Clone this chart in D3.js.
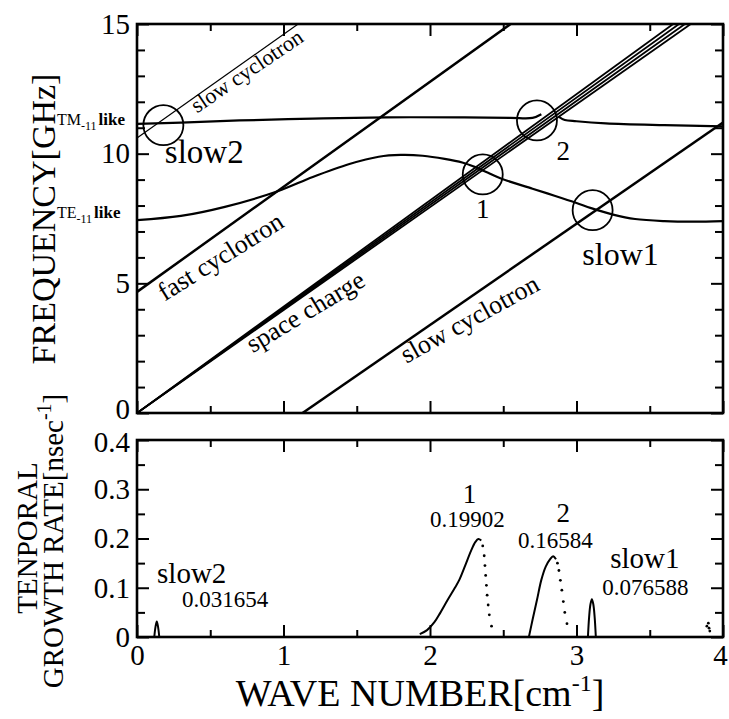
<!DOCTYPE html>
<html>
<head>
<meta charset="utf-8">
<script src="https://cdn.jsdelivr.net/npm/d3@7"></script>
<style>
  body { margin: 0; background: #fff; }
  text { font-family: "Liberation Serif", "Times New Roman", serif; fill: #000; }
</style>
</head>
<body>
<div id="container"></div>
<script>
// ---------- data ----------
// dispersion curves, [wave number cm^-1, frequency GHz]
let teCurve = [[0,7.44],[0.3,7.6],[0.6,7.95],[0.96,8.55],[1.2,9.1],[1.45,9.6],[1.65,9.88],[1.8,9.95],
  [1.95,9.92],[2.1,9.8],[2.22,9.66],[2.3,9.5],[2.38,9.3],[2.48,9.05],[2.7,8.65],[2.85,8.38],
  [3.0,8.1],[3.1,7.9],[3.25,7.65],[3.4,7.48],[3.6,7.4],[3.8,7.38],[4.0,7.4]];
let tmLeft = [[0,11.15],[0.3,11.2],[0.7,11.28],[1.2,11.35],[1.7,11.4],[2.2,11.4],[2.55,11.38],[2.7,11.38],[2.76,11.52]];
let tmRight = [[2.88,11.42],[2.92,11.3],[3.0,11.25],[3.2,11.17],[3.6,11.1],[4.0,11.05]];
let slowCycUpper = [[0,10.6],[1.1,15]];
let fastCyc = [[0,4.67],[2.55,15]];
let slowCycLower = [[1.13,0],[4,11.2]];
let spaceCharge = [
  [[0,0],[3.78,15]],
  [[0,0],[3.74,15]],
  [[0,0],[3.70,15]],
  [[0,0],[3.66,15]]
];
// circled crossing points
let circleK = [0.18, 2.36, 2.73, 3.11];
let circleF = [11.1, 9.2, 11.28, 7.82];

// growth rate, [wave number, rate nsec^-1]
let peak1Solid = [[1.93,0.006],[1.98,0.014],[2.03,0.03],[2.07,0.049],[2.12,0.075],[2.17,0.1],[2.2,0.116],
  [2.24,0.145],[2.28,0.175],[2.31,0.193],[2.33,0.199],[2.35,0.196]];
let peak1Dots = [[2.36,0.185],[2.37,0.165],[2.375,0.145],[2.38,0.125],[2.385,0.105],[2.39,0.085],
  [2.397,0.065],[2.405,0.045],[2.42,0.022]];
let peak2Solid = [[2.675,0.0],[2.70,0.035],[2.73,0.075],[2.76,0.116],[2.79,0.143],[2.82,0.158],[2.84,0.164],[2.86,0.158]];
let peak2Dots = [[2.87,0.15],[2.88,0.135],[2.89,0.115],[2.90,0.095],[2.91,0.072],[2.92,0.05],[2.935,0.027]];
let slow1Peak = [[3.078,0],[3.086,0.04],[3.095,0.066],[3.105,0.0766],[3.115,0.066],[3.124,0.04],[3.132,0]];
let slow2Peak = [[0.118,0],[0.126,0.02],[0.135,0.0317],[0.144,0.02],[0.152,0]];
let blipDots = [[3.89,0.022],[3.9,0.028],[3.905,0.018],[3.91,0.012]];

// axis ticks
let kMajor = [0,1,2,3,4];
let kMinor = [0.5,1.5,2.5,3.5];
let fMajor = [0,5,10,15];
let fMinor = [1,2,3,4,6,7,8,9,11,12,13,14];
let gMajor = [0,0.1,0.2,0.3,0.4];
let gMinor = [0.05,0.15,0.25,0.35];

// text labels
let topNotes = [
  {t:"slow2", k:0.19, f:9.63, size:33, anchor:"start"},
  {t:"slow1", k:3.04, f:5.7, size:32, anchor:"start"},
  {t:"1", k:2.36, f:7.51, size:27, anchor:"middle"},
  {t:"2", k:2.91, f:9.74, size:27, anchor:"middle"}
];
let slantNotes = [
  {t:"slow cyclotron", k:0.41, f:11.55, size:22, rot:-34},
  {t:"fast cyclotron", k:0.19, f:4.3, size:26, rot:-32},
  {t:"space charge", k:0.79, f:2.3, size:26, rot:-31},
  {t:"slow cyclotron", k:1.84, f:1.9, size:26, rot:-29}
];
let botNotes = [
  {t:"slow2", k:0.137, g:0.11, size:29, anchor:"start"},
  {t:"0.031654", k:0.307, g:0.061, size:23, anchor:"start"},
  {t:"1", k:2.27, g:0.272, size:27, anchor:"middle"},
  {t:"0.19902", k:2.0, g:0.223, size:23, anchor:"start"},
  {t:"2", k:2.91, g:0.2335, size:27, anchor:"middle"},
  {t:"0.16584", k:2.6, g:0.181, size:23, anchor:"start"},
  {t:"slow1", k:3.23, g:0.14, size:29, anchor:"start"},
  {t:"0.076588", k:3.175, g:0.085, size:23, anchor:"start"}
];

// ---------- layout ----------
let w = 729;
let h = 719;
let lineW = 2.5;
let serif = '"Liberation Serif", "Times New Roman", serif';

let svg = d3.select("#container").append("svg")
  .attr("width", w)
  .attr("height", h)
  .style("background-color", "white");

let x = d3.scaleLinear().domain([0, 4]).range([137, 723]);
let yTop = d3.scaleLinear().domain([0, 15]).range([413, 24]);
let yBot = d3.scaleLinear().domain([0, 0.4]).range([637, 440]);

svg.append("clipPath").attr("id", "clipTop")
  .append("rect")
  .attr("x", x(0)).attr("y", yTop(15))
  .attr("width", x(4) - x(0)).attr("height", yTop(0) - yTop(15));

function drawTicks(g, scaleX, scaleY, labelX, labelY, yFmt) {
  let x0 = scaleX.range()[0], x1 = scaleX.range()[1];
  let y0 = scaleY.range()[0], y1 = scaleY.range()[1];
  // x ticks bottom & top, pointing inward
  g.append("g").attr("class", "xlab").attr("transform", `translate(0,${y0})`)
    .call(d3.axisBottom(scaleX).tickValues(kMajor).tickSize(-12).tickPadding(7).tickFormat(labelX ? d3.format("d") : ""));
  g.append("g").attr("transform", `translate(0,${y0})`)
    .call(d3.axisBottom(scaleX).tickValues(kMinor).tickSize(-7).tickFormat(""));
  g.append("g").attr("transform", `translate(0,${y1})`)
    .call(d3.axisTop(scaleX).tickValues(kMajor).tickSize(-12).tickFormat(""));
  g.append("g").attr("transform", `translate(0,${y1})`)
    .call(d3.axisTop(scaleX).tickValues(kMinor).tickSize(-7).tickFormat(""));
  // y ticks left & right
  g.append("g").attr("class", "ylab").attr("transform", `translate(${x0},0)`)
    .call(d3.axisLeft(scaleY).tickValues(labelY.major).tickSize(-12).tickPadding(7).tickFormat(yFmt));
  g.append("g").attr("transform", `translate(${x0},0)`)
    .call(d3.axisLeft(scaleY).tickValues(labelY.minor).tickSize(-8).tickFormat(""));
  g.append("g").attr("transform", `translate(${x1},0)`)
    .call(d3.axisRight(scaleY).tickValues(labelY.major).tickSize(-12).tickFormat(""));
  g.append("g").attr("transform", `translate(${x1},0)`)
    .call(d3.axisRight(scaleY).tickValues(labelY.minor).tickSize(-8).tickFormat(""));
  g.selectAll(".domain").remove();
  g.selectAll("g").attr("font-family", serif).attr("font-size", 29);
  g.selectAll(".tick line").attr("stroke", "#000").attr("stroke-width", 2);
  g.selectAll(".tick text").attr("fill", "#000").style("font-family", serif).style("font-size", "29px");
  // frame
  g.append("rect")
    .attr("x", x0).attr("y", y1)
    .attr("width", x1 - x0).attr("height", y0 - y1)
    .attr("fill", "none").attr("stroke", "#000").attr("stroke-width", 2.6);
}

// ---------- top panel ----------
let topPanel = svg.append("g");
let lineTop = d3.line().x(d => x(d[0])).y(d => yTop(d[1]));
let smoothTop = d3.line().x(d => x(d[0])).y(d => yTop(d[1])).curve(d3.curveCatmullRom);
let curves = topPanel.append("g").attr("clip-path", "url(#clipTop)");

curves.append("path").datum(slowCycUpper).attr("d", lineTop)
  .attr("fill", "none").attr("stroke", "#000").attr("stroke-width", 1.2);
[fastCyc, slowCycLower].forEach(function(seg){
  curves.append("path").datum(seg).attr("d", lineTop)
    .attr("fill", "none").attr("stroke", "#000").attr("stroke-width", lineW);
});
spaceCharge.forEach(function(seg){
  curves.append("path").datum(seg).attr("d", lineTop)
    .attr("fill", "none").attr("stroke", "#000").attr("stroke-width", 1.8);
});
[teCurve, tmLeft, tmRight].forEach(function(seg){
  curves.append("path").datum(seg).attr("d", smoothTop)
    .attr("fill", "none").attr("stroke", "#000").attr("stroke-width", 2.2);
});

topPanel.selectAll(".ring").data(circleK).enter()
  .append("circle")
  .attr("class", "ring")
  .attr("cx", d => x(d))
  .attr("cy", (d, i) => yTop(circleF[i]))
  .attr("r", 20)
  .attr("fill", "none").attr("stroke", "#000").attr("stroke-width", 1.8);

drawTicks(topPanel, x, yTop, false, {major: fMajor, minor: fMinor}, d3.format("d"));
// lift the "0" a little so it clears the lower panel's "0.4"
topPanel.selectAll(".ylab .tick text").filter(d => d === 0).attr("y", -4);

topPanel.selectAll(".note").data(topNotes).enter()
  .append("text")
  .attr("x", d => x(d.k)).attr("y", d => yTop(d.f))
  .attr("text-anchor", d => d.anchor)
  .style("font-size", d => d.size + "px")
  .text(d => d.t);

topPanel.selectAll(".slant").data(slantNotes).enter()
  .append("text")
  .attr("transform", d => `translate(${x(d.k)},${yTop(d.f)}) rotate(${d.rot})`)
  .style("font-size", d => d.size + "px")
  .text(d => d.t);

// mode labels left of the axis
function modeLabel(name, f) {
  let t = topPanel.append("text").attr("x", 57).attr("y", yTop(f) + 9);
  t.append("tspan").style("font-size", "16px").text(name);
  t.append("tspan").attr("dy", 5).style("font-size", "12px").text("-11");
  t.append("tspan").attr("dy", -5).attr("dx", 2).style("font-size", "17px").style("font-weight", "bold").text("like");
}
modeLabel("TM", 11.45);
modeLabel("TE", 7.85);

svg.append("text")
  .attr("transform", `translate(55,219) rotate(-90)`)
  .attr("text-anchor", "middle")
  .style("font-size", "34px")
  .text("FREQUENCY[GHz]");

// ---------- bottom panel ----------
let botPanel = svg.append("g");
let lineBot = d3.line().x(d => x(d[0])).y(d => yBot(d[1])).curve(d3.curveCatmullRom);

[peak1Solid, peak2Solid, slow1Peak, slow2Peak].forEach(function(seg){
  botPanel.append("path").datum(seg).attr("d", lineBot)
    .attr("fill", "none").attr("stroke", "#000").attr("stroke-width", 2);
});
botPanel.selectAll(".dot").data(peak1Dots.concat(peak2Dots, blipDots)).enter()
  .append("circle")
  .attr("class", "dot")
  .attr("cx", d => x(d[0])).attr("cy", d => yBot(d[1]))
  .attr("r", 1.4).attr("fill", "#000");

drawTicks(botPanel, x, yBot, true, {major: gMajor, minor: gMinor}, d => d === 0 ? "0" : d.toFixed(1));
botPanel.selectAll(".ylab .tick text").filter(d => d === 0.4).attr("y", 2);
// keep the last x label inside the window
botPanel.selectAll(".xlab .tick text").filter(d => d === 4).attr("x", -3);

botPanel.selectAll(".note").data(botNotes).enter()
  .append("text")
  .attr("x", d => x(d.k)).attr("y", d => yBot(d.g))
  .attr("text-anchor", d => d.anchor)
  .style("font-size", d => d.size + "px")
  .text(d => d.t);

let yt = svg.append("text")
  .attr("transform", `translate(63,541) rotate(-90)`)
  .attr("text-anchor", "middle")
  .style("font-size", "29px");
yt.append("tspan").text("GROWTH RATE[nsec");
yt.append("tspan").attr("dy", -12).style("font-size", "20px").text("-1");
yt.append("tspan").attr("dy", 12).text("]");

svg.append("text")
  .attr("transform", `translate(37,538) rotate(-90)`)
  .attr("text-anchor", "middle")
  .style("font-size", "29px")
  .text("TENPORAL");

let xt = svg.append("text")
  .attr("x", 420).attr("y", 706)
  .attr("text-anchor", "middle")
  .style("font-size", "38px");
xt.append("tspan").text("WAVE NUMBER[cm");
xt.append("tspan").attr("dy", -15).style("font-size", "24px").text("-1");
xt.append("tspan").attr("dy", 15).text("]");
</script>
</body>
</html>
